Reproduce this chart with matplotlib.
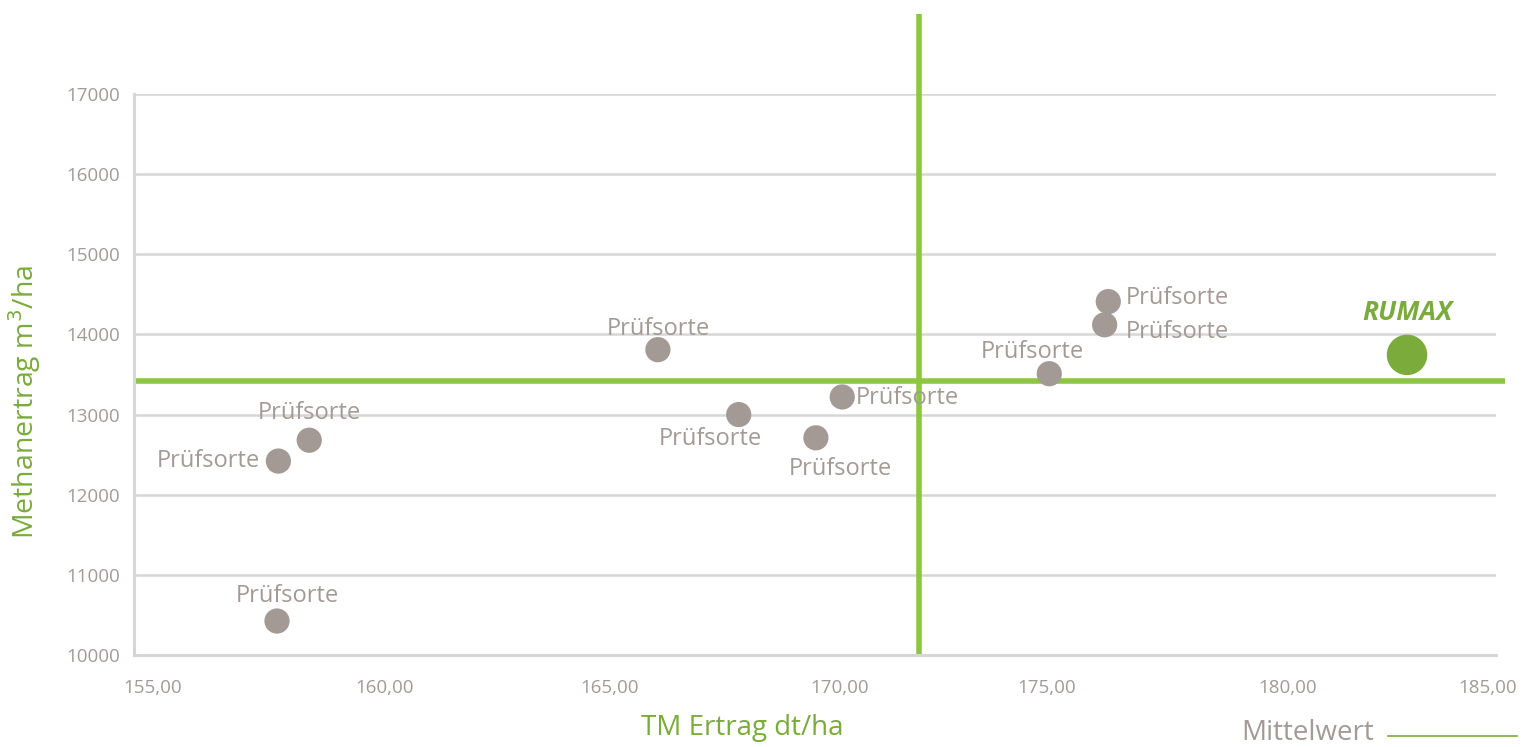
import matplotlib
matplotlib.use("Agg")
import matplotlib.pyplot as plt
import matplotlib.transforms as mtransforms

# TM Ertrag (dt/ha) and Methanertrag (m3/ha) per Sorte
tm_ertrag = [158.15, 158.18, 158.86, 166.54, 168.32, 170.02, 170.60, 175.16, 176.38, 176.46]
methan = [10424, 12420, 12680, 13810, 13000, 12710, 13220, 13510, 14120, 14410]
sorten = ["Prüfsorte"] * len(tm_ertrag)
# label placement (pixels offset, ha)
offsets = [(10, 25, "center"), (-18, 0, "right"), (0, 27, "center"), (0, 21, "center"),
           (-28, -24, "center"), (24, -31, "center"), (14, -1, "left"), (-17, 22, "center"),
           (21, -7, "left"), (17, 4, "left")]

rumax_x = 183.04
rumax_y = 13745
mittel_x = 172.29
mittel_y = 13420

xticks = [155, 160, 165, 170, 175, 180, 185]
# the x labels in the original sit a bit off their ticks (pixels)
xlabel_shift = [19, 24, 22, 25, 5, 19, -8]
yticks = [10000, 11000, 12000, 13000, 14000, 15000, 16000, 17000]

gray = "#a39a95"
green_line = "#8dc63f"
green = "#7aab3b"

plt.rcParams['font.family'] = ['Open Sans', 'DejaVu Sans']

fig = plt.figure(figsize=(15.32, 7.47), dpi=100)
ax = fig.add_axes([134 / 1532, 1 - 655 / 747, 1362 / 1532, (655 - 94) / 747])
ax.set_xlim(155, 185)
ax.set_ylim(10000, 17000)

ax.set_yticks(yticks)
ax.set_xticks(xticks)
ax.set_xticklabels(["%d,00" % t for t in xticks])
ax.tick_params(length=0, colors=gray, labelsize=13.5)
ax.tick_params(axis="x", pad=17)
ax.tick_params(axis="y", pad=10)
for lbl, sh in zip(ax.get_xticklabels(), xlabel_shift):
    lbl.set_transform(lbl.get_transform() + mtransforms.ScaledTranslation(sh / 100, 0, fig.dpi_scale_trans))
ax.grid(axis="y", color="#d6d6d6", linewidth=1.8)
ax.set_axisbelow(True)
for s in ["top", "right"]:
    ax.spines[s].set_visible(False)
for s in ["left", "bottom"]:
    ax.spines[s].set_color("#d6d6d6")
    ax.spines[s].set_linewidth(2.2)

# Mittelwert lines
ax.plot([mittel_x, mittel_x], [10000, 18000], color=green_line, linewidth=4, clip_on=False, zorder=2,
        solid_capstyle="butt")
ax.plot([155, 185.2], [mittel_y, mittel_y], color=green_line, linewidth=4, clip_on=False, zorder=2,
        solid_capstyle="butt")

ax.scatter(tm_ertrag, methan, s=330, color=gray, edgecolors="none", zorder=3)
for x, y, name, (dx, dy, ha) in zip(tm_ertrag, methan, sorten, offsets):
    ax.annotate(name, (x, y), xytext=(dx, dy), textcoords="offset pixels",
                ha=ha, va="center", color=gray, fontsize=17, zorder=4)

ax.scatter([rumax_x], [rumax_y], s=850, color=green, edgecolors="none", zorder=3)
ax.annotate("RUMAX", (rumax_x, rumax_y), xytext=(0, 42), textcoords="offset pixels",
            ha="center", va="center", color=green, fontsize=19, fontweight="bold",
            fontstyle="italic", zorder=4)

ax.set_xlabel("TM Ertrag dt/ha", color=green, fontsize=20)
ax.xaxis.set_label_coords((742 - 134) / 1362, -(728 - 655) / 561)
ax.xaxis.label.set_va("center")
ax.set_ylabel("Methanertrag m$^3$/ha", color=green, fontsize=20.5)
ax.yaxis.set_label_coords((25 - 134) / 1362, (655 - 402) / 561)
ax.yaxis.label.set_va("center")

# Mittelwert legend
fig.text(1374 / 1532, 1 - 733 / 747, "Mittelwert", color=gray, fontsize=20, ha="right", va="center")
fig.add_artist(plt.Line2D([1388 / 1532, 1517 / 1532], [1 - 736 / 747, 1 - 736 / 747],
                          color=green, linewidth=1.2))

fig.savefig("out.png", dpi=100)
